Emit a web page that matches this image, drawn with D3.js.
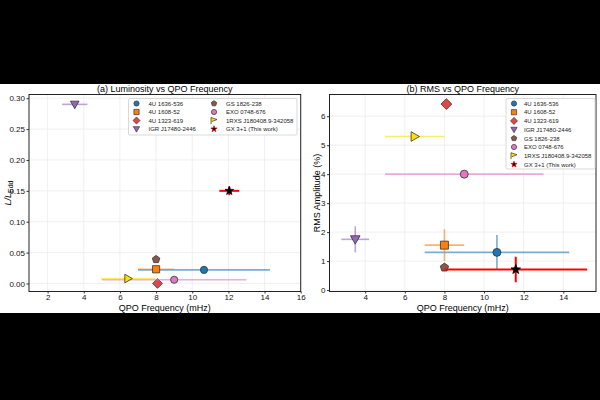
<!DOCTYPE html>
<html><head><meta charset="utf-8">
<script src="https://cdn.jsdelivr.net/npm/d3@7"></script>
<style>body{margin:0;background:#000;}svg{display:block;font-family:"Liberation Sans",Arial,sans-serif;}</style>
</head><body><svg id="c" width="600" height="400"></svg>
<script>
const names = ["4U 1636-536","4U 1608-52","4U 1323-619","IGR J17480-2446","GS 1826-238","EXO 0748-676","1RXS J180408.9-342058","GX 3+1 (This work)"];
const colors = ["#1f77b4","#ff7f0e","#e04848","#9467bd","#8c564b","#e377c2","#ffe000","#000000"];
const errColors = ["#1f77b4","#ff7f0e","#d62728","#9467bd","#8c564b","#e377c2","#ffe000","#ff0000"];
const shapes = ["circle","square","diamond","tridown","pentagon","circle","triright","star"];
const freqL = [10.65, 8.0, 8.08, 3.5, 8.0, 9.0, 6.45, 12.05];
const freqErrL = [3.65, 1.0, 0, 0.7, 0, 4.0, 1.5, 0.55];
const lum = [0.022, 0.023, 0.0, 0.29, 0.039, 0.006, 0.008, 0.150];
const lumErr = [0, 0, 0, 0, 0, 0, 0, 0.007];
const freqR = [10.65, 8.0, 8.1, 3.5, 8.0, 9.0, 6.5, 11.6];
const freqErrR = [3.65, 1.0, 0, 0.7, 0, 4.0, 1.5, 3.6];
const rms = [1.3, 1.55, 6.42, 1.75, 0.78, 4.0, 5.3, 0.71];
const rmsErr = [0.6, 0.55, 0, 0.45, 0.1, 0, 0, 0.44];
const xTicks = [2,4,6,8,10,12,14,16];
const xTicksR = [4,6,8,10,12,14];
const yTicksL = [0.00,0.05,0.10,0.15,0.20,0.25,0.30];
const yTicksR = [0,1,2,3,4,5,6];

const svg = d3.select("#c");
svg.append("rect").attr("x",0).attr("y",84).attr("width",600).attr("height",229).attr("fill","#fff");

function shapePath(s, r){
  const p = d3.path();
  if(s==="circle"){ p.arc(0,0,r,0,2*Math.PI); }
  else if(s==="square"){ p.rect(-r,-r,2*r,2*r); }
  else if(s==="diamond"){ const d=r*1.35; p.moveTo(0,-d);p.lineTo(d,0);p.lineTo(0,d);p.lineTo(-d,0);p.closePath(); }
  else if(s==="tridown"){ const d=r*1.2; p.moveTo(-d,-d*0.75);p.lineTo(d,-d*0.75);p.lineTo(0,d*1.0);p.closePath(); }
  else if(s==="triright"){ const d=r*1.2; p.moveTo(-d*0.75,-d);p.lineTo(d,0);p.lineTo(-d*0.75,d);p.closePath(); }
  else if(s==="pentagon"){ for(let i=0;i<5;i++){const a=-Math.PI/2+i*2*Math.PI/5; const x=r*1.1*Math.cos(a), y=r*1.1*Math.sin(a); i?p.lineTo(x,y):p.moveTo(x,y);} p.closePath(); }
  else if(s==="star"){ for(let i=0;i<10;i++){const a=-Math.PI/2+i*Math.PI/5; const rr=i%2?r*0.5:r*1.25; const x=rr*Math.cos(a), y=rr*Math.sin(a); i?p.lineTo(x,y):p.moveTo(x,y);} p.closePath(); }
  return p.toString();
}

function panel(o){
  const g = svg.append("g");
  const x = d3.scaleLinear().domain(o.xd).range([o.x0,o.x1]);
  const y = d3.scaleLinear().domain(o.yd).range([o.y1,o.y0]);
  g.selectAll(".gx").data(o.xt).enter().append("line")
    .attr("x1",d=>x(d)).attr("x2",d=>x(d)).attr("y1",o.y0).attr("y2",o.y1)
    .attr("stroke","#ececec").attr("stroke-width",0.8);
  g.selectAll(".gy").data(o.yt).enter().append("line")
    .attr("y1",d=>y(d)).attr("y2",d=>y(d)).attr("x1",o.x0).attr("x2",o.x1)
    .attr("stroke","#ececec").attr("stroke-width",0.8);
  const xa = g.append("g").attr("transform",`translate(0,${o.y1})`)
    .call(d3.axisBottom(x).tickValues(o.xt).tickFormat(d3.format("d")).tickSize(2).tickPadding(0.5));
  const ya = g.append("g").attr("transform",`translate(${o.x0},0)`)
    .call(d3.axisLeft(y).tickValues(o.yt).tickFormat(o.yf).tickSize(2.5).tickPadding(1.5));
  [xa,ya].forEach(a=>{a.select(".domain").remove(); a.selectAll("text").attr("font-size",8).attr("fill","#111").attr("font-family","Liberation Sans, Arial"); a.selectAll("line").attr("stroke","#333");});
  const dg = g.append("g");
  names.forEach((n,i)=>{
    const cx = x(o.fx[i]), cy = y(o.fy[i]);
    const ec = errColors[i], op = i===7?1:0.6, sw = i===7?2:1.6;
    if(o.ex[i]>0) dg.append("line").attr("x1",x(o.fx[i]-o.ex[i])).attr("x2",x(o.fx[i]+o.ex[i])).attr("y1",cy).attr("y2",cy)
      .attr("stroke",ec).attr("stroke-opacity",op).attr("stroke-width",sw);
    if(o.ey[i]>0) dg.append("line").attr("y1",y(o.fy[i]-o.ey[i])).attr("y2",y(o.fy[i]+o.ey[i])).attr("x1",cx).attr("x2",cx)
      .attr("stroke",ec).attr("stroke-opacity",op).attr("stroke-width",sw);
    dg.append("path").attr("d",shapePath(shapes[i],o.ms)).attr("transform",`translate(${cx},${cy})`)
      .attr("fill",colors[i]).attr("stroke",i===7?"#000":"#333").attr("stroke-width",0.8);
  });
  g.append("rect").attr("x",o.x0).attr("y",o.y0).attr("width",o.x1-o.x0).attr("height",o.y1-o.y0)
    .attr("fill","none").attr("stroke","#222").attr("stroke-width",1);
  g.append("text").attr("x",(o.x0+o.x1)/2).attr("y",92).attr("text-anchor","middle").attr("font-size",9).text(o.title);
  g.append("text").attr("x",(o.x0+o.x1)/2).attr("y",311).attr("text-anchor","middle").attr("font-size",9).text("QPO Frequency (mHz)");
  const lg = g.append("g");
  lg.append("rect").attr("x",o.lx).attr("y",o.ly).attr("width",o.lw).attr("height",o.lh).attr("rx",1.5)
    .attr("fill","#fff").attr("stroke","#cfcfcf").attr("stroke-width",0.8);
  names.forEach((n,i)=>{
    const col = Math.floor(i/o.rows), row = i%o.rows;
    const mx = o.lx+8+col*o.colw, my = o.ly+5+row*o.rh;
    const s = (i===6)?"flag":shapes[i];
    if(s==="flag"){
      lg.append("path").attr("d",`M${mx-3},${my+3.5}L${mx-3},${my-3}L${mx+3},${my-1}L${mx-2},${my+1}`).attr("fill",colors[i]).attr("stroke","#333").attr("stroke-width",0.7);
    } else {
      lg.append("path").attr("d",shapePath(s,2.6)).attr("transform",`translate(${mx},${my})`)
        .attr("fill",colors[i]).attr("stroke",i===7?"#ff0000":"#333").attr("stroke-width",0.7);
    }
    lg.append("text").attr("x",mx+o.tg).attr("y",my+2.2).attr("font-size",6).attr("fill","#222").text(n);
  });
  return g;
}

panel({x0:29,x1:300.7,y0:94.5,y1:291.5,xd:[0.97,16],yd:[-0.013,0.306],xt:xTicks,yt:yTicksL,
  yf:d3.format(".2f"),fx:freqL,fy:lum,ex:freqErrL,ey:lumErr,ms:3.6,title:"(a) Luminosity vs QPO Frequency",
  lx:128.5,ly:98.5,lw:168.5,lh:36.5,rows:4,colw:77.5,rh:8.5,tg:12});
panel({x0:329.5,x1:596,y0:94.5,y1:291.5,xd:[2.2,15.65],yd:[-0.05,6.75],xt:xTicksR,yt:yTicksR,
  yf:d3.format("d"),fx:freqR,fy:rms,ex:freqErrR,ey:rmsErr,ms:4.0,title:"(b) RMS vs QPO Frequency",
  lx:506,ly:98.5,lw:89,lh:70.5,rows:8,colw:0,rh:8.7,tg:10});

const yl = svg.append("text").attr("transform","translate(11,193) rotate(-90)").attr("text-anchor","middle").attr("font-size",9);
yl.append("tspan").attr("font-style","italic").text("L/L");
yl.append("tspan").attr("font-size",7).attr("dy",2).text("Edd");
svg.append("text").attr("transform","translate(320,193) rotate(-90)").attr("text-anchor","middle").attr("font-size",9).text("RMS Amplitude (%)");
</script></body></html>
